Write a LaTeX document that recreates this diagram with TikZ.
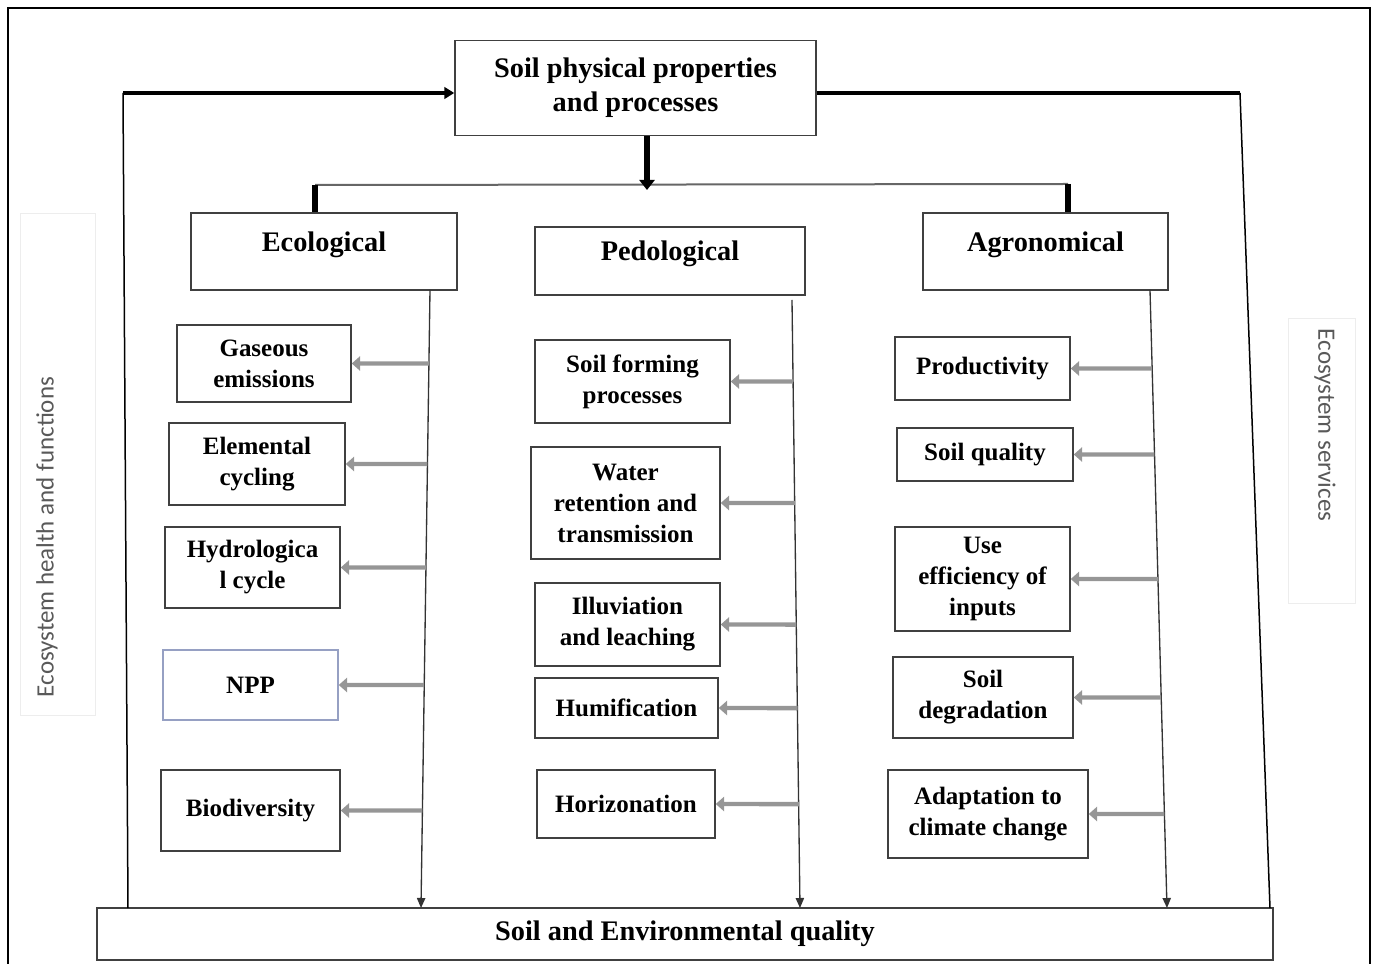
\documentclass[tikz,border=0pt]{standalone}
\usepackage{fontspec}
\setmainfont{Liberation Serif}
\newfontfamily\sidefont{Carlito}
\usetikzlibrary{arrows.meta,calc}
\definecolor{feedgray}{RGB}{150,150,150}
\definecolor{nppline}{RGB}{150,160,195}

\begin{document}
\begin{tikzpicture}[x=0.6pt,y=-0.6pt,
  box/.style={draw=black!75, line width=0.9pt, fill=white, align=center, inner sep=2pt},
  head/.style={box, font=\fontsize{17}{20.4}\selectfont\bfseries},
  item/.style={box, font=\fontsize{15}{18.6}\selectfont\bfseries},
  feed/.style={draw=feedgray, line width=2.6pt, -{Triangle[length=5pt,width=8.5pt]}},
  stem/.style={draw=black!80, line width=0.8pt, -{Triangle[length=6pt,width=5pt]}},
  side/.style={font=\sidefont\fontsize{15}{18}\selectfont, text=black!65}]
\useasboundingbox (0,0) rectangle (1375,964);
\draw[line width=1.4pt] (8,8) rectangle (1370,975);
\draw[black!7] (20,213) rectangle (95,715);
\draw[black!7] (1288,318) rectangle (1355,603);
\node[side, rotate=90] (health) at (47,537) {Ecosystem health and functions};
\node[side, rotate=-90] (services) at (1325,425) {Ecosystem services};

\node[head, minimum width=216.6pt, minimum height=57pt] (top) at (635.5,88) {Soil physical properties\\and processes};
\node[head, text depth=12pt, minimum width=159.6pt, minimum height=46.2pt] (eco) at (324,251.5) {Ecological};
\node[head, text depth=12pt, minimum width=162pt, minimum height=40.8pt] (ped) at (670,261) {Pedological};
\node[head, text depth=12pt, minimum width=147pt, minimum height=46.2pt] (agr) at (1045.5,251.5) {Agronomical};
\node[head, minimum width=705.6pt, minimum height=31.2pt] (env) at (685,934) {Soil and Environmental quality};

\node[item, minimum width=104.4pt, minimum height=46.2pt] (gas) at (264,363.5) {Gaseous\\emissions};
\node[item, minimum width=105.6pt, minimum height=49.2pt] (elem) at (257,464) {Elemental\\cycling};
\node[item, minimum width=105pt, minimum height=48.6pt] (hydro) at (252.5,567.5) {Hydrologica\\l cycle};
\node[item, draw=nppline, minimum width=105pt, minimum height=42pt] (npp) at (250.5,685) {NPP};
\node[item, minimum width=107.4pt, minimum height=48.6pt] (bio) at (250.5,810.5) {Biodiversity};

\node[item, minimum width=117pt, minimum height=49.8pt] (forming) at (632.5,381.5) {Soil forming\\processes};
\node[item, minimum width=113.4pt, minimum height=67.2pt] (water) at (625.5,503) {Water\\retention and\\transmission};
\node[item, minimum width=111pt, minimum height=49.8pt] (illuv) at (627.5,624.5) {Illuviation\\and leaching};
\node[item, minimum width=109.8pt, minimum height=36pt] (humif) at (626.5,708) {Humification};
\node[item, minimum width=106.8pt, minimum height=40.8pt] (horiz) at (626,804) {Horizonation};

\node[item, minimum width=105pt, minimum height=37.8pt] (prod) at (982.5,368.5) {Productivity};
\node[item, minimum width=105.6pt, minimum height=31.8pt] (squal) at (985,454.5) {Soil quality};
\node[item, minimum width=105pt, minimum height=62.4pt] (useff) at (982.5,579) {Use\\efficiency of\\inputs};
\node[item, minimum width=108pt, minimum height=48.6pt] (degr) at (983,697.5) {Soil\\degradation};
\node[item, minimum width=120pt, minimum height=52.8pt] (adapt) at (988,814) {Adaptation to\\climate change};

\coordinate (lc) at (123,93);
\coordinate (lb) at (128,908);
\coordinate (rc) at (1240,93);
\coordinate (rb) at (1270,908);
\draw[line width=0.9pt] (lb) -- (lc);
\draw[line width=2.6pt, -{Triangle[length=6pt,width=7pt]}] (lc) -- (lc -| top.west);
\draw[line width=2.6pt] (rc -| top.east) -- (rc);
\draw[line width=0.9pt] (rc) -- (rb);

\coordinate (hub) at (647,190);
\coordinate (bl) at (315,185);
\coordinate (br) at (1068,184);
\draw[black!60, line width=1.2pt] (bl) -- (br);
\draw[line width=3.6pt, -{Triangle[length=6pt,width=9pt]}] (hub |- top.south) -- (hub);
\draw[line width=3.2pt] (bl) -- (bl |- eco.north);
\draw[line width=3.2pt] (br) -- (br |- agr.north);

\coordinate (eA) at (430,290);
\coordinate (eB) at (421,908);
\coordinate (pA) at (792,300);
\coordinate (pB) at (800,908);
\coordinate (aA) at (1150,290);
\coordinate (aB) at (1167,908);
\draw[stem] (eA) -- (eB);
\draw[stem] (pA) -- (pB);
\draw[stem] (aA) -- (aB);

\draw[feed] (intersection cs: first line={(eA)--(eB)}, second line={(gas.east)--(gas.east -| eA)}) -- (gas.east);
\draw[feed] (intersection cs: first line={(eA)--(eB)}, second line={(elem.east)--(elem.east -| eA)}) -- (elem.east);
\draw[feed] (intersection cs: first line={(eA)--(eB)}, second line={(hydro.east)--(hydro.east -| eA)}) -- (hydro.east);
\draw[feed] (intersection cs: first line={(eA)--(eB)}, second line={(npp.east)--(npp.east -| eA)}) -- (npp.east);
\draw[feed] (intersection cs: first line={(eA)--(eB)}, second line={(bio.east)--(bio.east -| eA)}) -- (bio.east);
\draw[feed] (intersection cs: first line={(pA)--(pB)}, second line={(forming.east)--(forming.east -| pA)}) -- (forming.east);
\draw[feed] (intersection cs: first line={(pA)--(pB)}, second line={(water.east)--(water.east -| pA)}) -- (water.east);
\draw[feed] (intersection cs: first line={(pA)--(pB)}, second line={(illuv.east)--(illuv.east -| pA)}) -- (illuv.east);
\draw[feed] (intersection cs: first line={(pA)--(pB)}, second line={(humif.east)--(humif.east -| pA)}) -- (humif.east);
\draw[feed] (intersection cs: first line={(pA)--(pB)}, second line={(horiz.east)--(horiz.east -| pA)}) -- (horiz.east);
\draw[feed] (intersection cs: first line={(aA)--(aB)}, second line={(prod.east)--(prod.east -| aA)}) -- (prod.east);
\draw[feed] (intersection cs: first line={(aA)--(aB)}, second line={(squal.east)--(squal.east -| aA)}) -- (squal.east);
\draw[feed] (intersection cs: first line={(aA)--(aB)}, second line={(useff.east)--(useff.east -| aA)}) -- (useff.east);
\draw[feed] (intersection cs: first line={(aA)--(aB)}, second line={(degr.east)--(degr.east -| aA)}) -- (degr.east);
\draw[feed] (intersection cs: first line={(aA)--(aB)}, second line={(adapt.east)--(adapt.east -| aA)}) -- (adapt.east);
\end{tikzpicture}
\end{document}
